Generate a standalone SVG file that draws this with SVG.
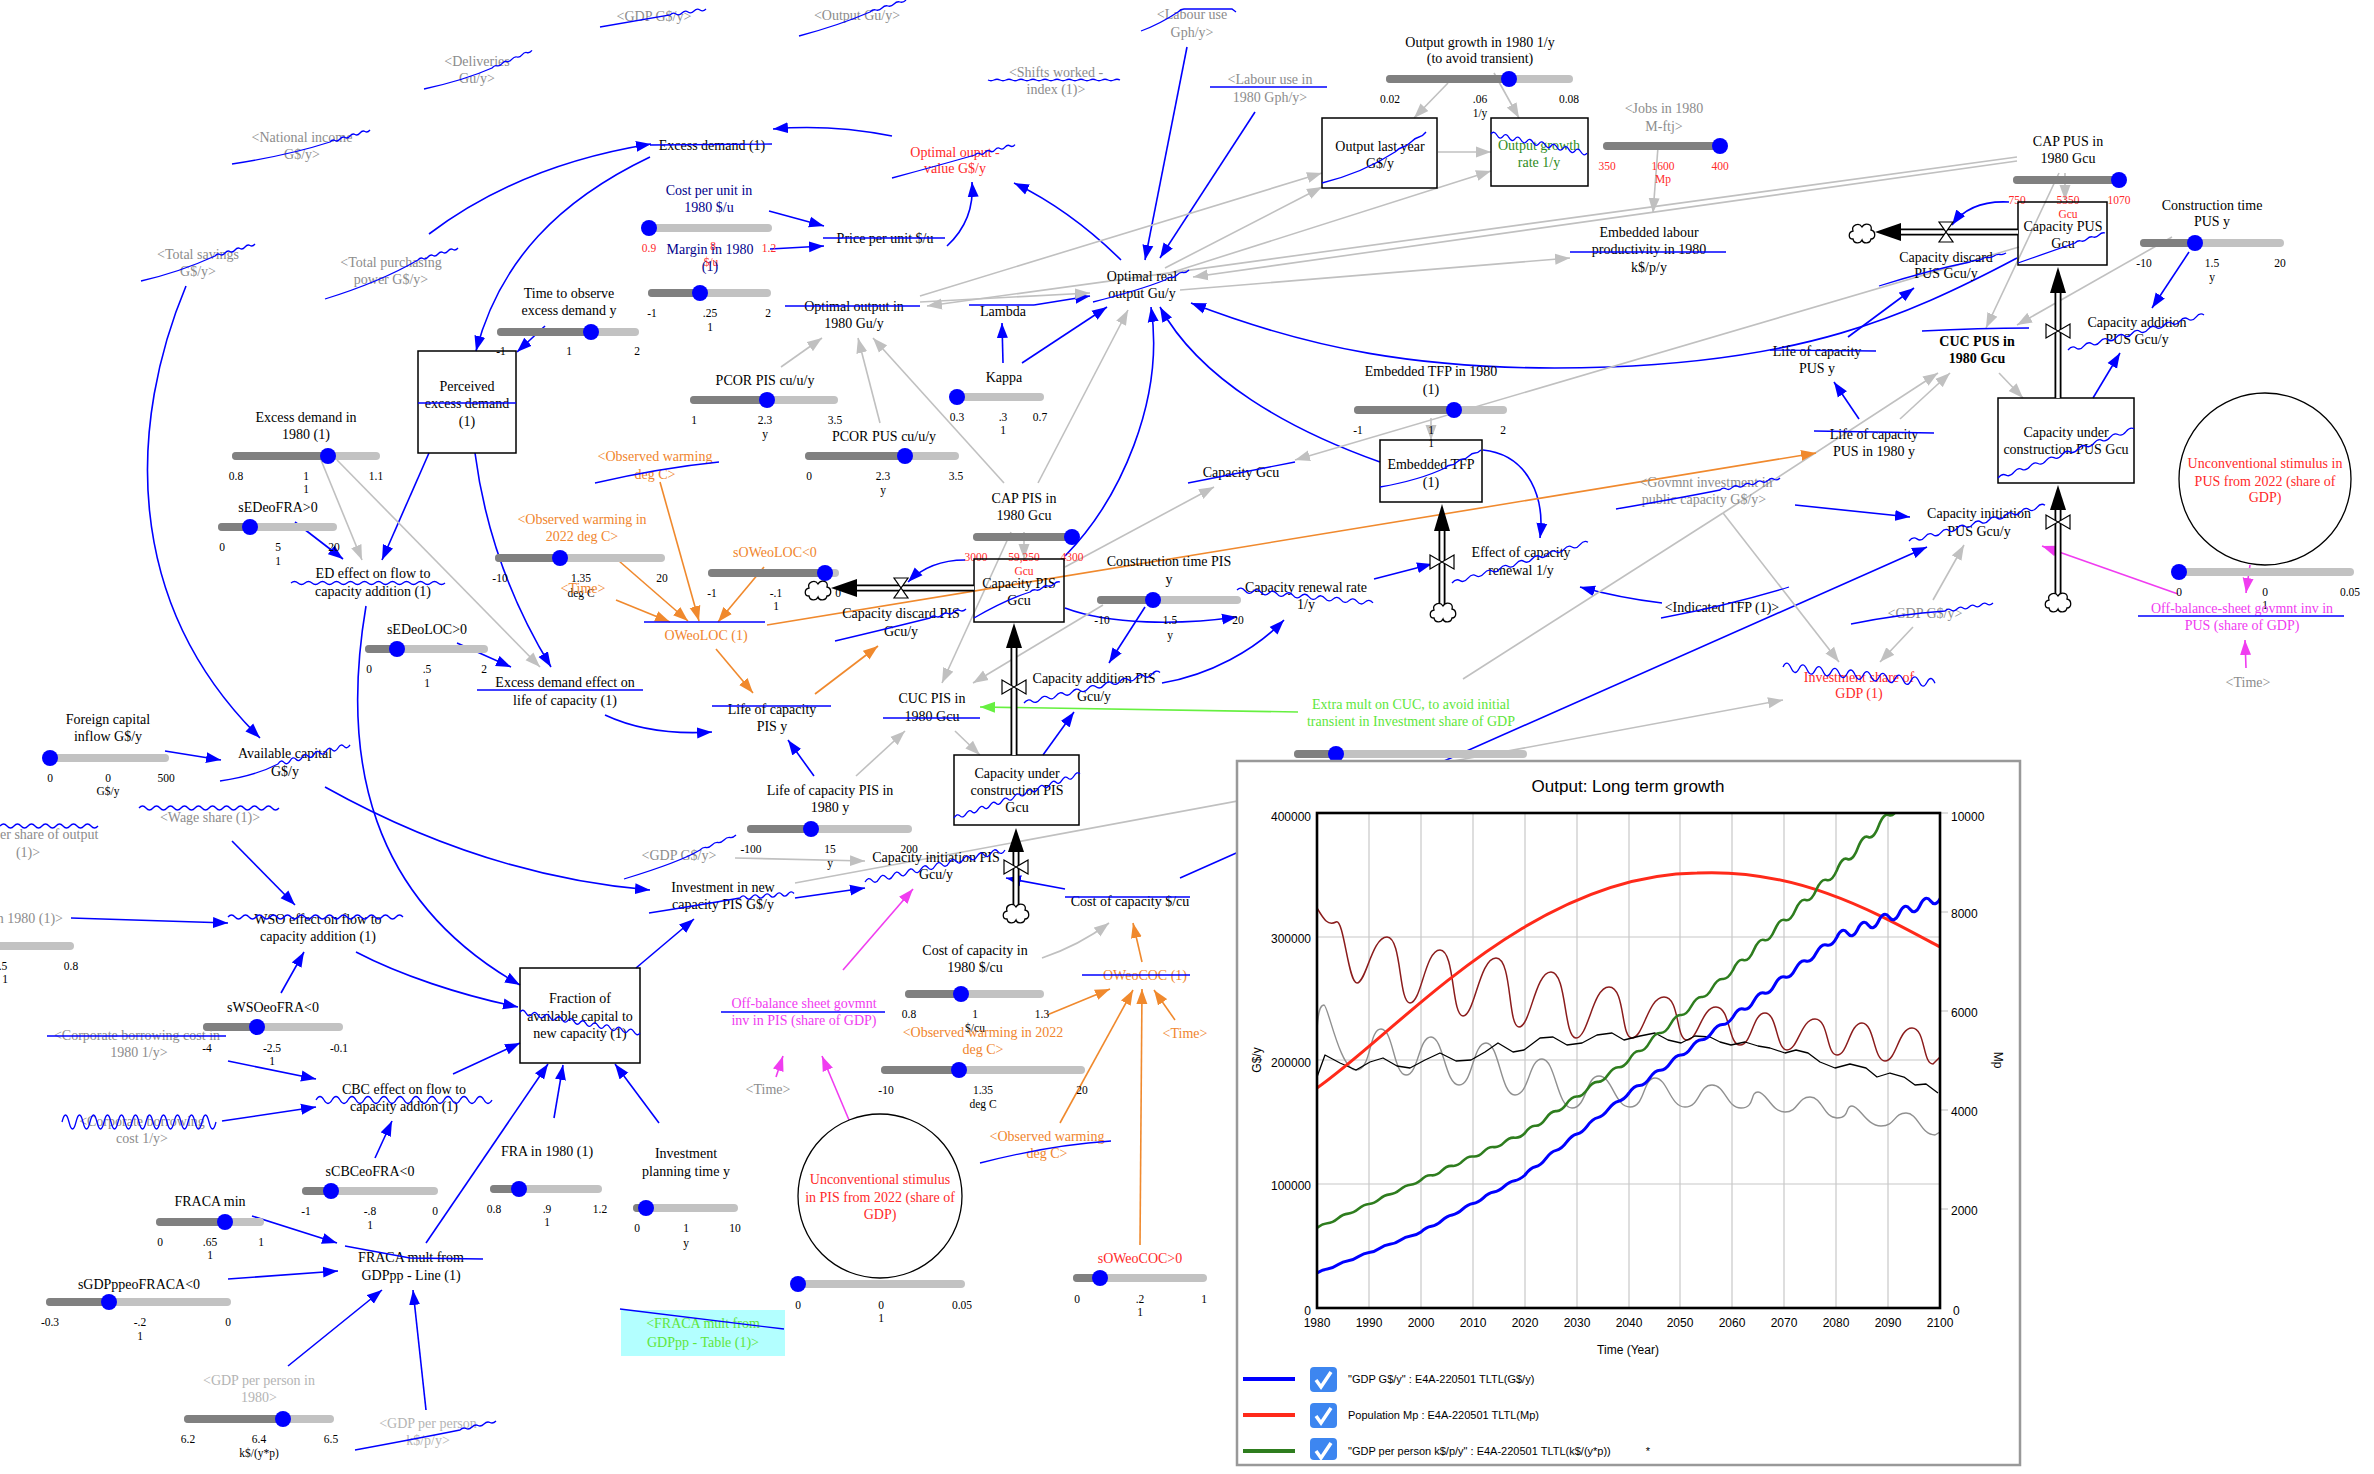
<svg xmlns="http://www.w3.org/2000/svg" width="2374" height="1474" viewBox="0 0 2374 1474">
<style>
text{font-family:"Liberation Serif","Times New Roman",serif;font-size:14px;text-anchor:middle;fill:#000}
text.n{font-size:11.5px}
.gy{fill:#8c8c8c}
.lg{fill:#b4b4b4}
.rd{fill:#ff2a2a}
.or{fill:#f0852d}
.mg{fill:#f03cf0}
.gn{fill:#5ee63c}
.nv{fill:#00008b}
.dg{fill:#2e8b22}
.b{font-weight:bold}
.sp{fill:none;stroke:#0000ff;stroke-width:1.3}
.bx{fill:none;stroke:#000;stroke-width:1.5}
.sl line{stroke:#c2c2c2;stroke-width:8;stroke-linecap:round}
.sl line.dk{stroke:#808080}
.sl circle{fill:#0000ff}
.cb{fill:none;stroke:#0000ff;stroke-width:1.6;marker-end:url(#ab)}
.cg{fill:none;stroke:#c0c0c0;stroke-width:1.6;marker-end:url(#ag)}
.cgn{fill:none;stroke:#c0c0c0;stroke-width:1.6}
.co{fill:none;stroke:#f0892d;stroke-width:1.6;marker-end:url(#ao)}
.cm{fill:none;stroke:#f03cf0;stroke-width:1.6;marker-end:url(#am)}
.cn{fill:none;stroke:#66f040;stroke-width:1.6;marker-end:url(#an)}
.pipe{stroke:#000;stroke-width:7;fill:none}
.pipe2{stroke:#fff;stroke-width:3.4;fill:none}
.valve{fill:#fff;stroke:#000;stroke-width:1.2}
.cloud{fill:#fff;stroke:#000;stroke-width:1.3}
.ch text{font-family:"Liberation Sans",Arial,sans-serif;font-size:12px}
.grid{stroke:#c8c8c8;stroke-width:1.2}
</style>
<defs>
<marker id="ab" markerUnits="userSpaceOnUse" markerWidth="16" markerHeight="12" refX="15" refY="6" orient="auto"><path d="M0,0.5L15,6L0,11.5z" fill="#0000ff"/></marker>
<marker id="ag" markerUnits="userSpaceOnUse" markerWidth="16" markerHeight="12" refX="15" refY="6" orient="auto"><path d="M0,0.5L15,6L0,11.5z" fill="#c0c0c0"/></marker>
<marker id="ao" markerUnits="userSpaceOnUse" markerWidth="16" markerHeight="12" refX="15" refY="6" orient="auto"><path d="M0,0.5L15,6L0,11.5z" fill="#f0892d"/></marker>
<marker id="am" markerUnits="userSpaceOnUse" markerWidth="16" markerHeight="12" refX="15" refY="6" orient="auto"><path d="M0,0.5L15,6L0,11.5z" fill="#f03cf0"/></marker>
<marker id="an" markerUnits="userSpaceOnUse" markerWidth="16" markerHeight="12" refX="15" refY="6" orient="auto"><path d="M0,0.5L15,6L0,11.5z" fill="#66f040"/></marker>
<clipPath id="pc"><rect x="1317" y="813" width="623" height="495"/></clipPath>
<g id="cloud"><path class="cloud" d="M-9,6 C-14,6 -14,-1 -9,-2 C-11,-8 -3,-11 0,-6 C3,-11 11,-9 9,-3 C14,-2 14,6 9,6 C8,11 1,11 0,7 C-2,11 -8,11 -9,6 Z"/></g>
</defs>
<rect width="2374" height="1474" fill="#fff"/>

<g id="connectors">
<!-- blue -->
<path class="cb" d="M429,234 Q520,165 651,144"/>
<path class="cb" d="M650,157 C560,200 500,260 476,351"/>
<path class="cb" d="M545,326 L517,352"/>
<path class="cb" d="M892,136 Q830,124 773,129"/>
<path class="cb" d="M769,211 L824,226"/>
<path class="cb" d="M770,249 L824,246"/>
<path class="cb" d="M947,246 Q975,220 972,182"/>
<path class="cb" d="M1121,260 Q1070,210 1014,183"/>
<path class="cb" d="M1187,47 L1145,260"/>
<path class="cb" d="M1255,112 L1160,258"/>
<path class="cb" d="M1022,363 L1107,307"/>
<path class="cb" d="M1003,363 L1002,323"/>
<path class="cb" d="M1034,305 L1090,296"/>
<path class="cb" d="M1065,556 C1120,500 1165,400 1151,307"/>
<path class="cb" d="M1380,462 C1290,430 1200,380 1160,307"/>
<path class="cb" d="M2017,258 C1900,320 1800,360 1609,367 S1300,345 1191,303"/>
<path class="cb" d="M429,453 L382,560"/>
<path class="cb" d="M295,522 L343,559"/>
<path class="cb" d="M475,453 C485,530 510,600 551,667"/>
<path class="cb" d="M457,643 L511,667"/>
<path class="cb" d="M605,715 Q650,736 712,732"/>
<path class="cb" d="M186,286 C130,420 120,600 260,738"/>
<path class="cb" d="M165,751 L221,760"/>
<path class="cb" d="M325,787 C420,840 530,880 650,890"/>
<path class="cb" d="M366,606 C340,760 370,900 520,985"/>
<path class="cb" d="M232,841 L295,905"/>
<path class="cb" d="M71,918 L228,923"/>
<path class="cb" d="M281,993 L304,952"/>
<path class="cb" d="M356,952 C400,975 460,995 518,1007"/>
<path class="cb" d="M228,1061 L316,1079"/>
<path class="cb" d="M222,1121 L316,1107"/>
<path class="cb" d="M375,1158 L392,1121"/>
<path class="cb" d="M453,1074 L520,1043"/>
<path class="cb" d="M252,1216 L337,1243"/>
<path class="cb" d="M228,1279 L338,1271"/>
<path class="cb" d="M288,1366 L382,1290"/>
<path class="cb" d="M426,1410 L413,1290"/>
<path class="cb" d="M426,1243 L548,1064"/>
<path class="cb" d="M554,1118 L563,1065"/>
<path class="cb" d="M659,1123 L615,1064"/>
<path class="cb" d="M636,968 L694,919"/>
<path class="cb" d="M795,898 Q830,893 865,888"/>
<path class="cb" d="M1065,889 L1006,878"/>
<path class="cb" d="M1180,878 L1927,547"/>
<path class="cb" d="M965,560 Q930,560 908,582"/>
<path class="cb" d="M1043,755 L1074,712"/>
<path class="cb" d="M1145,607 L1109,663"/>
<path class="cb" d="M1065,608 C1110,625 1180,625 1237,617"/>
<path class="cb" d="M1162,683 C1210,675 1255,650 1284,620"/>
<path class="cb" d="M1374,579 L1432,564"/>
<path class="cb" d="M1483,450 C1530,455 1545,500 1540,538"/>
<path class="cb" d="M1662,603 Q1620,598 1580,587"/>
<path class="cb" d="M814,776 L788,740"/>
<path class="cb" d="M1859,419 L1834,382"/>
<path class="cb" d="M1848,337 L1914,288"/>
<path class="cb" d="M2009,202 Q1970,200 1952,225"/>
<path class="cb" d="M2093,398 L2120,353"/>
<path class="cb" d="M2189,252 L2152,308"/>
<path class="cb" d="M1795,505 L1910,517"/>
<!-- grey -->
<path class="cg" d="M321,460 L362,560"/>
<path class="cg" d="M337,460 L540,667"/>
<path class="cg" d="M920,296 L1322,173"/>
<path class="cg" d="M1165,268 L1322,187"/>
<path class="cg" d="M1170,273 L1491,171"/>
<path class="cg" d="M1448,83 L1414,118"/>
<path class="cg" d="M1494,73 L1519,118"/>
<path class="cg" d="M1438,152 L1491,152"/>
<path class="cg" d="M1658,147 L1653,213"/>
<path class="cg" d="M1180,290 L1570,258"/>
<path class="cg" d="M920,302 L1090,293"/>
<path class="cg" d="M2017,157 L927,306"/>
<path class="cg" d="M2017,161 L1193,277"/>
<path class="cg" d="M781,367 L822,338"/>
<path class="cg" d="M880,423 L858,338"/>
<path class="cg" d="M1004,483 L873,338"/>
<path class="cg" d="M1038,483 L1128,310"/>
<path class="cg" d="M1024,532 L1024,559"/>
<path class="cg" d="M1011,532 L942,683"/>
<path class="cg" d="M1103,605 L973,683"/>
<path class="cg" d="M856,776 L905,731"/>
<path class="cg" d="M955,731 L980,755"/>
<path class="cg" d="M1065,567 L1214,487"/>
<path class="cg" d="M2019,247 L1295,460"/>
<path class="cg" d="M1431,418 L1431,440"/>
<path class="cgn" d="M1723,513 L1463,679"/>
<path class="cg" d="M1723,513 L1839,662"/>
<path class="cg" d="M1723,513 L1938,373"/>
<path class="cg" d="M1900,419 L1950,373"/>
<path class="cg" d="M2059,173 L1986,328"/>
<path class="cg" d="M2065,173 L2065,200"/>
<path class="cg" d="M2172,237 L2017,325"/>
<path class="cg" d="M1999,373 L2023,398"/>
<path class="cg" d="M1933,600 L1964,545"/>
<path class="cg" d="M1913,627 L1880,662"/>
<path class="cg" d="M795,883 L1783,700"/>
<path class="cg" d="M735,858 L865,861"/>
<path class="cg" d="M1042,958 Q1080,945 1109,923"/>
<!-- orange -->
<path class="co" d="M660,482 L699,621"/>
<path class="co" d="M619,561 L688,621"/>
<path class="co" d="M616,600 L670,622"/>
<path class="co" d="M764,567 L718,622"/>
<path class="co" d="M716,649 L753,693"/>
<path class="co" d="M815,694 L878,646"/>
<path class="co" d="M767,625 L1816,453"/>
<path class="co" d="M1142,962 L1133,923"/>
<path class="co" d="M1047,1015 L1110,989"/>
<path class="co" d="M1060,1123 L1133,990"/>
<path class="co" d="M1140,1245 L1142,989"/>
<path class="co" d="M1175,1020 L1154,990"/>
<!-- magenta -->
<path class="cm" d="M849,1120 L822,1056"/>
<path class="cm" d="M776,1077 L783,1056"/>
<path class="cm" d="M843,970 L913,889"/>
<path class="cm" d="M2178,594 L2042,546"/>
<path class="cm" d="M2250,565 L2246,593"/>
<path class="cm" d="M2246,668 L2245,640"/>
<!-- green -->
<path class="cn" d="M1298,712 L980,707"/>
</g>

<g id="gdp_top"><text class="gy" x="654" y="21">&lt;GDP G$/y&gt;</text><path class="sp" d="M600,27 Q640,20 670,15 q3,-3 6,-1 t6,-1 t6,-1 t6,-1 t6,-1 t6,-1"/></g>
<g id="output_top"><text class="gy" x="857" y="20">&lt;Output Gu/y&gt;</text><path class="sp" d="M799,36 Q840,25 870,12 q3,-3 6,-2 t6,-2 t6,-2 t6,-2 t6,-2 t6,-2"/></g>
<g id="labour_use"><text class="gy" x="1192" y="19">&lt;Labour use</text><text class="gy" x="1192" y="37">Gph/y&gt;</text><path class="sp" d="M1141,31 Q1160,24 1178,12 q3,-3 6,-3 t6,0 t6,0 t6,0 t6,0 t6,0 t6,0 t6,0 t6,0 l4,3"/></g>
<g id="deliveries"><text class="gy" x="477" y="66">&lt;Deliveries</text><text class="gy" x="477" y="83">Gu/y&gt;</text><path class="sp" d="M424,89 Q465,80 492,68 q2.5,-3 5,-2.2 t5,-2.2 t5,-2.2 t5,-2.2 t5,-2.2 t5,-2.2 t5,-2.2 t5,-2.2"/></g>
<g id="national_income"><text class="gy" x="302" y="142">&lt;National income</text><text class="gy" x="302" y="159">G$/y&gt;</text><path class="sp" d="M232,164 Q290,155 330,142 q2.5,-3 5,-1.5 t5,-1.5 t5,-1.5 t5,-1.5 t5,-1.5 t5,-1.5 t5,-1.5 t5,-1.5"/></g>
<g id="total_savings"><text class="gy" x="198" y="259">&lt;Total savings</text><text class="gy" x="198" y="276">G$/y&gt;</text><path class="sp" d="M141,281 Q180,272 215,256 q2.5,-3 5,-1.5 t5,-1.5 t5,-1.5 t5,-1.5 t5,-1.5 t5,-1.5 t5,-1.5 t5,-1.5"/></g>
<g id="total_purchasing_power"><text class="gy" x="391" y="267">&lt;Total purchasing</text><text class="gy" x="391" y="284">power G$/y&gt;</text><path class="sp" d="M325,299 Q380,282 418,260 q2.5,-3 5,-1.5 t5,-1.5 t5,-1.5 t5,-1.5 t5,-1.5 t5,-1.5 t5,-1.5 t5,-1.5"/></g>
<g id="shifts_worked"><text class="gy" x="1056" y="77">&lt;Shifts worked -</text><text class="gy" x="1056" y="94">index (1)&gt;</text><path class="sp" d="M988,80 q3,1.5 6,0 t6,0 t6,0 t6,0 t6,0 t6,0 t6,0 t6,0 t6,0 t6,0 t6,0 t6,0 t6,0 t6,0 t6,0 t6,0 t6,0 t6,0 t6,0 t6,0 t6,0 t6,0"/></g>
<g id="labour_use_1980"><text class="gy" x="1270" y="84">&lt;Labour use in</text><text class="gy" x="1270" y="102">1980 Gph/y&gt;</text><path class="sp" d="M1210,87 L1327,87"/></g>

<g id="output_growth_1980"><text x="1480" y="47">Output growth in 1980 1/y</text><text x="1480" y="63">(to avoid transient)</text>
<g class="sl"><line x1="1390" y1="79" x2="1569" y2="79"/><line class="dk" x1="1390" y1="79" x2="1509" y2="79"/><circle cx="1509" cy="79" r="8"/></g>
<text class="n" x="1390" y="103">0.02</text><text class="n" x="1480" y="103">.06</text><text class="n" x="1569" y="103">0.08</text><text class="n" x="1480" y="117">1/y</text></g>
<g id="output_last_year"><rect class="bx" x="1322" y="118" width="115" height="70"/><text x="1380" y="151">Output last year</text><text x="1380" y="168">G$/y</text><path class="sp" d="M1322,183 C1350,176 1375,165 1395,152 q4,-4 8,-5 t8,-5 t8,-5 t7,-5"/></g>
<g id="output_growth_rate"><rect class="bx" x="1491" y="118" width="97" height="68"/><text class="dg" x="1539" y="150">Output growth</text><text class="dg" x="1539" y="167">rate 1/y</text><path class="sp" d="M1491,134 q3,-4 6,1.2 t6,1.2 t6,1.2 t6,1.2 t6,1.2 t6,1.2 t6,1.2 t6,1.2 t6,1.2 t6,1.2 t6,1.2 t6,1.2 t6,1.2 t6,1.2 t6,1.2 t6,1.2"/></g>
<g id="jobs_1980"><text class="gy" x="1664" y="113">&lt;Jobs in 1980</text><text class="gy" x="1664" y="131">M-ftj&gt;</text>
<g class="sl"><line x1="1607" y1="146" x2="1720" y2="146"/><line class="dk" x1="1607" y1="146" x2="1720" y2="146"/><circle cx="1720" cy="146" r="8"/></g>
<text class="n rd" x="1607" y="170">350</text><text class="n rd" x="1663" y="170">1600</text><text class="n rd" x="1720" y="170">400</text><text class="n rd" x="1663" y="183">Mp</text></g>
<g id="embedded_labour"><text x="1649" y="237">Embedded labour</text><text x="1649" y="254">productivity in 1980</text><text x="1649" y="272">k$/p/y</text><path class="sp" d="M1570,252 L1726,252"/></g>

<g id="optimal_value"><text class="rd" x="955" y="157">Optimal ouput -</text><text class="rd" x="955" y="173">value G$/y</text><path class="sp" d="M892,178 Q940,165 975,155 q2.5,-3 5,-1.3 t5,-1.3 t5,-1.3 t5,-1.3 t5,-1.3 t5,-1.3 t5,-1.3 t5,-1.3"/></g>
<g id="excess_demand"><text x="712" y="150">Excess demand (1)</text><path class="sp" d="M650,145 L772,144"/></g>
<g id="cost_per_unit"><text class="nv" x="709" y="195">Cost per unit in</text><text class="nv" x="709" y="212">1980 $/u</text>
<g class="sl"><line x1="649" y1="228" x2="768" y2="228"/><circle cx="649" cy="228" r="8"/></g>
<text class="n rd" x="649" y="252">0.9</text><text class="n rd" x="713" y="250">8</text><text class="n rd" x="769" y="252">1.2</text><text class="n rd" x="711" y="266">$/u</text></g>
<g id="margin_1980"><text class="nv" x="710" y="254">Margin in 1980</text><text class="nv" x="710" y="271">(1)</text>
<g class="sl"><line x1="652" y1="293" x2="767" y2="293"/><line class="dk" x1="652" y1="293" x2="700" y2="293"/><circle cx="700" cy="293" r="8"/></g>
<text class="n" x="652" y="317">-1</text><text class="n" x="710" y="317">.25</text><text class="n" x="768" y="317">2</text><text class="n" x="710" y="331">1</text></g>
<g id="price_per_unit"><text x="885" y="243">Price per unit $/u</text><path class="sp" d="M823,238 L945,238"/></g>
<g id="time_to_observe"><text x="569" y="298">Time to observe</text><text x="569" y="315">excess demand y</text>
<g class="sl"><line x1="501" y1="332" x2="635" y2="332"/><line class="dk" x1="501" y1="332" x2="591" y2="332"/><circle cx="591" cy="332" r="8"/></g>
<text class="n" x="501" y="355">-1</text><text class="n" x="569" y="355">1</text><text class="n" x="637" y="355">2</text></g>
<g id="perceived_excess_demand"><rect class="bx" x="418" y="351" width="98" height="102"/><text x="467" y="391">Perceived</text><text x="467" y="408">excess demand</text><text x="467" y="426">(1)</text><path class="sp" d="M418,403 L516,403"/></g>
<g id="excess_demand_1980"><text x="306" y="422">Excess demand in</text><text x="306" y="439">1980 (1)</text>
<g class="sl"><line x1="236" y1="456" x2="376" y2="456"/><line class="dk" x1="236" y1="456" x2="328" y2="456"/><circle cx="328" cy="456" r="8"/></g>
<text class="n" x="236" y="480">0.8</text><text class="n" x="306" y="480">1</text><text class="n" x="376" y="480">1.1</text><text class="n" x="306" y="493">1</text></g>
<g id="sEDeoFRA"><text x="278" y="512">sEDeoFRA&gt;0</text>
<g class="sl"><line x1="222" y1="527" x2="333" y2="527"/><line class="dk" x1="222" y1="527" x2="250" y2="527"/><circle cx="250" cy="527" r="8"/></g>
<text class="n" x="222" y="551">0</text><text class="n" x="278" y="551">5</text><text class="n" x="334" y="551">20</text><text class="n" x="278" y="565">1</text></g>
<g id="ed_effect_flow"><text x="373" y="578">ED effect on flow to</text><text x="373" y="596">capacity addition (1)</text><path class="sp" d="M291,583 q3.5,-3 7,0 t7,0 t7,0 t7,0 t7,0 t7,0 t7,0 t7,0 t7,0 t7,0 t7,0 t7,0 t7,0 t7,0 t7,0 t7,0 t7,0 t7,0 t7,0 t7,0 t7,0 t7,0"/></g>
<g id="sEDeoLOC"><text x="427" y="634">sEDeoLOC&gt;0</text>
<g class="sl"><line x1="369" y1="649" x2="484" y2="649"/><line class="dk" x1="369" y1="649" x2="397" y2="649"/><circle cx="397" cy="649" r="8"/></g>
<text class="n" x="369" y="673">0</text><text class="n" x="427" y="673">.5</text><text class="n" x="484" y="673">2</text><text class="n" x="427" y="687">1</text></g>
<g id="ed_effect_life"><text x="565" y="687">Excess demand effect on</text><text x="565" y="705">life of capacity (1)</text><path class="sp" d="M477,690 L643,690"/></g>
<g id="foreign_capital"><text x="108" y="724">Foreign capital</text><text x="108" y="741">inflow G$/y</text>
<g class="sl"><line x1="50" y1="758" x2="165" y2="758"/><circle cx="50" cy="758" r="8"/></g>
<text class="n" x="50" y="782">0</text><text class="n" x="108" y="782">0</text><text class="n" x="166" y="782">500</text><text class="n" x="108" y="795">G$/y</text></g>
<g id="available_capital"><text x="285" y="758">Available capital</text><text x="285" y="776">G$/y</text><path class="sp" d="M220,781 Q255,776 278,764 q3,-5 6,-1.6 t6,-1.6 t6,-1.6 t6,-1.6 t6,-1.6 t6,-1.6 t6,-1.6 t6,-1.6 t6,-1.6 t6,-1.6 t6,-1.6 t6,-1.6"/></g>
<g id="wage_share"><text class="gy" x="210" y="822">&lt;Wage share (1)&gt;</text><path class="sp" d="M139,808 q3.5,-4 7,0 t7,0 t7,0 t7,0 t7,0 t7,0 t7,0 t7,0 t7,0 t7,0 t7,0 t7,0 t7,0 t7,0 t7,0 t7,0 t7,0 t7,0 t7,0 t7,0"/></g>
<g id="share_of_output"><text class="gy" x="0" y="839" style="text-anchor:start">er share of output</text><text class="gy" x="28" y="857">(1)&gt;</text><path class="sp" d="M0,826 q3.5,-4 7,0 t7,0 t7,0 t7,0 t7,0 t7,0 t7,0 t7,0 t7,0 t7,0 t7,0 t7,0 t7,0 t7,0"/></g>
<g id="in_1980_left"><text class="gy" x="63" y="923" style="text-anchor:end">n 1980 (1)&gt;</text>
<g class="sl"><line x1="-10" y1="946" x2="70" y2="946"/></g>
<text class="n" x="3" y="970">.5</text><text class="n" x="71" y="970">0.8</text><text class="n" x="5" y="983">1</text></g>
<g id="wso_effect"><text x="318" y="924">WSO effect on flow to</text><text x="318" y="941">capacity addition (1)</text><path class="sp" d="M228,917 q3.5,-4 7,0 t7,0 t7,0 t7,0 t7,0 t7,0 t7,0 t7,0 t7,0 t7,0 t7,0 t7,0 t7,0 t7,0 t7,0 t7,0 t7,0 t7,0 t7,0 t7,0 t7,0 t7,0 t7,0 t7,0 t7,0"/></g>
<g id="sWSOeoFRA"><text x="273" y="1012">sWSOeoFRA&lt;0</text>
<g class="sl"><line x1="207" y1="1027" x2="339" y2="1027"/><line class="dk" x1="207" y1="1027" x2="257" y2="1027"/><circle cx="257" cy="1027" r="8"/></g>
<text class="n" x="207" y="1052">-4</text><text class="n" x="272" y="1052">-2.5</text><text class="n" x="339" y="1052">-0.1</text><text class="n" x="272" y="1065">1</text></g>
<g id="corp_cost_1980"><text class="gy" x="137" y="1040">&lt;Corporate borrowing cost in</text><text class="gy" x="139" y="1057">1980 1/y&gt;</text><path class="sp" d="M47,1036 L226,1036"/></g>
<g id="cbc_effect"><text x="404" y="1094">CBC effect on flow to</text><text x="404" y="1111">capacity addion (1)</text><path class="sp" d="M316,1100 q4,-7 8,0 t8,0 t8,0 t8,0 t8,0 t8,0 t8,0 t8,0 t8,0 t8,0 t8,0 t8,0 t8,0 t8,0 t8,0 t8,0 t8,0 t8,0 t8,0 t8,0 t8,0 t8,0"/></g>
<g id="corp_cost"><text class="gy" x="142" y="1126">&lt;Corporate borrowing</text><text class="gy" x="142" y="1143">cost 1/y&gt;</text><path class="sp" d="M62,1122 q3.5,-14 7,0 t7,0 t7,0 t7,0 t7,0 t7,0 t7,0 t7,0 t7,0 t7,0 t7,0 t7,0 t7,0 t7,0 t7,0 t7,0 t7,0 t7,0 t7,0 t7,0 t7,0 t7,0"/></g>
<g id="sCBCeoFRA"><text x="370" y="1176">sCBCeoFRA&lt;0</text>
<g class="sl"><line x1="306" y1="1191" x2="434" y2="1191"/><line class="dk" x1="306" y1="1191" x2="331" y2="1191"/><circle cx="331" cy="1191" r="8"/></g>
<text class="n" x="306" y="1215">-1</text><text class="n" x="370" y="1215">-.8</text><text class="n" x="435" y="1215">0</text><text class="n" x="370" y="1229">1</text></g>
<g id="fraca_min"><text x="210" y="1206">FRACA min</text>
<g class="sl"><line x1="160" y1="1222" x2="260" y2="1222"/><line class="dk" x1="160" y1="1222" x2="225" y2="1222"/><circle cx="225" cy="1222" r="8"/></g>
<text class="n" x="160" y="1246">0</text><text class="n" x="210" y="1246">.65</text><text class="n" x="261" y="1246">1</text><text class="n" x="210" y="1259">1</text></g>
<g id="fraca_mult_line"><text x="411" y="1262">FRACA mult from</text><text x="411" y="1280">GDPpp - Line (1)</text><path class="sp" d="M345,1246 L410,1258 L483,1259"/></g>
<g id="sGDPppeoFRACA"><text x="139" y="1289">sGDPppeoFRACA&lt;0</text>
<g class="sl"><line x1="50" y1="1302" x2="227" y2="1302"/><line class="dk" x1="50" y1="1302" x2="109" y2="1302"/><circle cx="109" cy="1302" r="8"/></g>
<text class="n" x="50" y="1326">-0.3</text><text class="n" x="140" y="1326">-.2</text><text class="n" x="228" y="1326">0</text><text class="n" x="140" y="1340">1</text></g>
<g id="gdppp_1980"><text class="lg" x="259" y="1385">&lt;GDP per person in</text><text class="lg" x="259" y="1402">1980&gt;</text>
<g class="sl"><line x1="188" y1="1419" x2="330" y2="1419"/><line class="dk" x1="188" y1="1419" x2="283" y2="1419"/><circle cx="283" cy="1419" r="8"/></g>
<text class="n" x="188" y="1443">6.2</text><text class="n" x="259" y="1443">6.4</text><text class="n" x="331" y="1443">6.5</text><text class="n" x="259" y="1457">k$/(y*p)</text></g>
<g id="gdppp"><text class="lg" x="428" y="1428">&lt;GDP per person</text><text class="lg" x="428" y="1445">k$/p/y&gt;</text><path class="sp" d="M355,1450 Q420,1438 460,1430 q3,-3 6,-1.5 t6,-1.5 t6,-1.5 t6,-1.5 t6,-1.5 t6,-1.5"/></g>
<g id="fra_1980"><text x="547" y="1156">FRA in 1980 (1)</text>
<g class="sl"><line x1="494" y1="1189" x2="598" y2="1189"/><line class="dk" x1="494" y1="1189" x2="519" y2="1189"/><circle cx="519" cy="1189" r="8"/></g>
<text class="n" x="494" y="1213">0.8</text><text class="n" x="547" y="1213">.9</text><text class="n" x="600" y="1213">1.2</text><text class="n" x="547" y="1226">1</text></g>
<g id="fraction_available"><rect class="bx" x="520" y="968" width="120" height="95"/><text x="580" y="1003">Fraction of</text><text x="580" y="1021">available capital to</text><text x="580" y="1038">new capacity (1)</text><path class="sp" d="M520,1012 q3,-4 6,1.05 t6,1.05 t6,1.05 t6,1.05 t6,1.05 t6,1.05 t6,1.05 t6,1.05 t6,1.05 t6,1.05 t6,1.05 t6,1.05 t6,1.05 t6,1.05 t6,1.05 t6,1.05 t6,1.05 t6,1.05 t6,1.05 t6,1.05"/></g>
<g id="investment_planning"><text x="686" y="1158">Investment</text><text x="686" y="1176">planning time y</text>
<g class="sl"><line x1="637" y1="1208" x2="734" y2="1208"/><line class="dk" x1="637" y1="1208" x2="646" y2="1208"/><circle cx="646" cy="1208" r="8"/></g>
<text class="n" x="637" y="1232">0</text><text class="n" x="686" y="1232">1</text><text class="n" x="735" y="1232">10</text><text class="n" x="686" y="1247">y</text></g>
<g id="fraca_table"><rect x="621" y="1310" width="164" height="46" fill="#b3ffff"/><text class="gn" x="703" y="1328">&lt;FRACA mult from</text><text class="gn" x="703" y="1347">GDPpp - Table (1)&gt;</text><path class="sp" d="M620,1309 L784,1329"/></g>
<g id="off_balance_pis"><text class="mg" x="804" y="1008">Off-balance sheet govmnt</text><text class="mg" x="804" y="1025">inv in PIS (share of GDP)</text><path class="sp" d="M721,1012 L885,1012"/></g>
<g id="time_pis"><text class="gy" x="768" y="1094">&lt;Time&gt;</text></g>
<g id="unconventional_pis"><circle cx="880" cy="1196" r="82" fill="none" stroke="#000" stroke-width="1.3"/><text class="rd" x="880" y="1184">Unconventional stimulus</text><text class="rd" x="880" y="1202">in PIS from 2022 (share of</text><text class="rd" x="880" y="1219">GDP)</text>
<g class="sl"><line x1="798" y1="1284" x2="961" y2="1284"/><circle cx="798" cy="1284" r="8"/></g>
<text class="n" x="798" y="1309">0</text><text class="n" x="881" y="1309">0</text><text class="n" x="962" y="1309">0.05</text><text class="n" x="881" y="1322">1</text></g>
<g id="cost_capacity_1980"><text x="975" y="955">Cost of capacity in</text><text x="975" y="972">1980 $/cu</text>
<g class="sl"><line x1="909" y1="994" x2="1040" y2="994"/><line class="dk" x1="909" y1="994" x2="961" y2="994"/><circle cx="961" cy="994" r="8"/></g>
<text class="n" x="909" y="1018">0.8</text><text class="n" x="975" y="1018">1</text><text class="n" x="1042" y="1018">1.3</text><text class="n" x="975" y="1032">$/cu</text></g>
<g id="obs_warming_2022_b"><text class="or" x="983" y="1037">&lt;Observed warming in 2022</text><text class="or" x="983" y="1054">deg C&gt;</text>
<g class="sl"><line x1="885" y1="1070" x2="1081" y2="1070"/><line class="dk" x1="885" y1="1070" x2="959" y2="1070"/><circle cx="959" cy="1070" r="8"/></g>
<text class="n" x="886" y="1094">-10</text><text class="n" x="983" y="1094">1.35</text><text class="n" x="1082" y="1094">20</text><text class="n" x="983" y="1108">deg C</text></g>
<g id="obs_warming_b"><text class="or" x="1047" y="1141">&lt;Observed warming</text><text class="or" x="1047" y="1158">deg C&gt;</text><path class="sp" d="M980,1163 Q1050,1145 1111,1141"/></g>
<g id="time_coc"><text class="or" x="1185" y="1038">&lt;Time&gt;</text></g>
<g id="sOWeoCOC"><text class="rd" x="1140" y="1263">sOWeoCOC&gt;0</text>
<g class="sl"><line x1="1077" y1="1278" x2="1203" y2="1278"/><line class="dk" x1="1077" y1="1278" x2="1100" y2="1278"/><circle cx="1100" cy="1278" r="8"/></g>
<text class="n" x="1077" y="1303">0</text><text class="n" x="1140" y="1303">.2</text><text class="n" x="1204" y="1303">1</text><text class="n" x="1140" y="1316">1</text></g>
<g id="OWeoCOC"><text class="or" x="1145" y="980">OWeoCOC (1)</text><path class="sp" d="M1082,975 L1190,975"/></g>
<g id="cost_of_capacity"><text x="1130" y="906">Cost of capacity $/cu</text><path class="sp" d="M1065,897 L1190,897"/></g>
<g id="capacity_initiation_pis"><text x="936" y="862">Capacity initiation PIS</text><text x="936" y="879">Gcu/y</text><path class="sp" d="M865,882 q3.5,-6 7,-1.6 t7,-1.6 t7,-1.6 t7,-1.6 t7,-1.6 t7,-1.6 t7,-1.6 t7,-1.6 t7,-1.6 t7,-1.6 t7,-1.6 t7,-1.6 t7,-1.6 t7,-1.6 t7,-1.6 t7,-1.6 t7,-1.6 t7,-1.6 t7,-1.6 t7,-1.6"/></g>
<g id="gdp_mid"><text class="gy" x="679" y="860">&lt;GDP G$/y&gt;</text><path class="sp" d="M624,879 Q680,862 700,850 q3,-3 6,-2.5 t6,-2.5 t6,-2.5 t6,-2.5 t6,-2.5 t6,-2.5"/></g>
<g id="investment_new_pis"><text x="723" y="892">Investment in new</text><text x="723" y="909">capacity PIS G$/y</text><path class="sp" d="M649,913 Q700,905 740,898 q3,-4 6,-0.5 t6,-0.5 t6,-0.5 t6,-0.5 t6,-0.5 t6,-0.5 t6,-0.5 t6,-0.5 t6,-0.5"/></g>
<g id="life_pis_1980"><text x="830" y="795">Life of capacity PIS in</text><text x="830" y="812">1980 y</text>
<g class="sl"><line x1="751" y1="829" x2="908" y2="829"/><line class="dk" x1="751" y1="829" x2="811" y2="829"/><circle cx="811" cy="829" r="8"/></g>
<text class="n" x="751" y="853">-100</text><text class="n" x="830" y="853">15</text><text class="n" x="909" y="853">200</text><text class="n" x="830" y="867">y</text></g>
<g id="life_pis"><text x="772" y="714">Life of capacity</text><text x="772" y="731">PIS y</text><path class="sp" d="M712,706 L831,706"/></g>
<g id="OWeoLOC"><text class="or" x="706" y="640">OWeoLOC (1)</text><path class="sp" d="M644,622 L765,622"/></g>
<g id="sOWeoLOC"><text class="or" x="775" y="557">sOWeoLOC&lt;0</text>
<g class="sl"><line x1="712" y1="573" x2="835" y2="573"/><line class="dk" x1="712" y1="573" x2="825" y2="573"/><circle cx="825" cy="573" r="8"/></g>
<text class="n" x="712" y="597">-1</text><text class="n" x="776" y="597">-.1</text><text class="n" x="838" y="597">0</text><text class="n" x="776" y="610">1</text></g>
<g id="obs_warming_2022_a"><text class="or" x="582" y="524">&lt;Observed warming in</text><text class="or" x="582" y="541">2022 deg C&gt;</text>
<g class="sl"><line x1="499" y1="558" x2="661" y2="558"/><line class="dk" x1="499" y1="558" x2="560" y2="558"/><circle cx="560" cy="558" r="8"/></g>
<text class="n" x="500" y="582">-10</text><text class="n" x="581" y="582">1.35</text><text class="n" x="662" y="582">20</text><text class="n" x="581" y="597">deg C</text></g>
<g id="time_loc"><text class="or" x="583" y="593">&lt;Time&gt;</text></g>
<g id="obs_warming_a"><text class="or" x="655" y="461">&lt;Observed warming</text><text class="or" x="655" y="479">deg C&gt;</text><path class="sp" d="M595,483 Q660,468 719,462"/></g>
<g id="pcor_pis"><text x="765" y="385">PCOR PIS cu/u/y</text>
<g class="sl"><line x1="694" y1="400" x2="834" y2="400"/><line class="dk" x1="694" y1="400" x2="767" y2="400"/><circle cx="767" cy="400" r="8"/></g>
<text class="n" x="694" y="424">1</text><text class="n" x="765" y="424">2.3</text><text class="n" x="835" y="424">3.5</text><text class="n" x="765" y="438">y</text></g>
<g id="pcor_pus"><text x="884" y="441">PCOR PUS cu/u/y</text>
<g class="sl"><line x1="809" y1="456" x2="955" y2="456"/><line class="dk" x1="809" y1="456" x2="905" y2="456"/><circle cx="905" cy="456" r="8"/></g>
<text class="n" x="809" y="480">0</text><text class="n" x="883" y="480">2.3</text><text class="n" x="956" y="480">3.5</text><text class="n" x="883" y="494">y</text></g>
<g id="optimal_output_1980"><text x="854" y="311">Optimal output in</text><text x="854" y="328">1980 Gu/y</text><path class="sp" d="M785,306 L920,306"/></g>
<g id="lambda"><text x="1003" y="316">Lambda</text><path class="sp" d="M969,305 L1034,305"/></g>
<g id="kappa"><text x="1004" y="382">Kappa</text>
<g class="sl"><line x1="957" y1="397" x2="1040" y2="397"/><circle cx="957" cy="397" r="8"/></g>
<text class="n" x="957" y="421">0.3</text><text class="n" x="1003" y="421">.3</text><text class="n" x="1040" y="421">0.7</text><text class="n" x="1003" y="434">1</text></g>
<g id="optimal_real_output"><text x="1142" y="281">Optimal real</text><text x="1142" y="298">output Gu/y</text><path class="sp" d="M1093,302 Q1140,290 1165,280 q3,-3 6,-2.5 t6,-2.5 t6,-2.5 t6,-2.5"/></g>
<g id="cap_pis_1980"><text x="1024" y="503">CAP PIS in</text><text x="1024" y="520">1980 Gcu</text>
<g class="sl"><line x1="977" y1="537" x2="1071" y2="537"/><line class="dk" x1="977" y1="537" x2="1072" y2="537"/><circle cx="1072" cy="537" r="8"/></g>
<text class="n rd" x="976" y="561">3000</text><text class="n rd" x="1024" y="561">59,250</text><text class="n rd" x="1072" y="561">4300</text><text class="n rd" x="1024" y="575">Gcu</text></g>
<g id="capacity_pis"><rect class="bx" x="974" y="559" width="90" height="63"/><text x="1019" y="588">Capacity PIS</text><text x="1019" y="605">Gcu</text><path class="sp" d="M974,618 Q1005,600 1030,592 q3,-3 6,-2 t6,-2 t6,-2 t6,-2 t6,-2"/></g>
<g id="capacity_discard_pis"><text x="901" y="618">Capacity discard PIS</text><text x="901" y="636">Gcu/y</text><path class="sp" d="M835,641 Q890,628 930,618 q3,-3 6,-1.5 t6,-1.5 t6,-1.5 t6,-1.5 t6,-1.5 t6,-1.5"/>
<path class="pipe" d="M974,588 H852"/><path class="pipe2" d="M974,588 H852"/><polygon points="857,579 857,597 831,588" fill="#000"/>
<polygon class="valve" points="894,578 908,578 894,598 908,598"/><use href="#cloud" x="818" y="590"/></g>
<g id="cuc_pis"><text x="932" y="703">CUC PIS in</text><text x="932" y="721">1980 Gcu</text><path class="sp" d="M883,718 L980,718"/></g>
<g id="capacity_uc_pis"><rect class="bx" x="954" y="755" width="125" height="70"/><text x="1017" y="778">Capacity under</text><text x="1017" y="795">construction PIS</text><text x="1017" y="812">Gcu</text><path class="sp" d="M954,818 q3,-5 6,-2.1 t6,-2.1 t6,-2.1 t6,-2.1 t6,-2.1 t6,-2.1 t6,-2.1 t6,-2.1 t6,-2.1 t6,-2.1 t6,-2.1 t6,-2.1 t6,-2.1 t6,-2.1 t6,-2.1 t6,-2.1 t6,-2.1 t6,-2.1 t6,-2.1 t6,-2.1 t6,-2.1"/></g>
<g id="capacity_addition_pis"><text x="1094" y="683">Capacity addition PIS</text><text x="1094" y="701">Gcu/y</text><path class="sp" d="M1024,703 q4,-5 8,-1.8 t8,-1.8 t8,-1.8 t8,-1.8 t8,-1.8 t8,-1.8 t8,-1.8 t8,-1.8 t8,-1.8 t8,-1.8 t8,-1.8 t8,-1.8 t8,-1.8 t8,-1.8 t8,-1.8 t8,-1.8 t8,-1.8"/>
<path class="pipe" d="M1014,755 V645"/><path class="pipe2" d="M1014,755 V645"/><polygon points="1006,648 1022,648 1014,623" fill="#000"/>
<polygon class="valve" points="1002,680 1002,694 1026,680 1026,694"/></g>
<g id="capacity_initiation_pis_flow"><path class="pipe" d="M1016,905 V848"/><path class="pipe2" d="M1016,905 V848"/><polygon points="1008,852 1024,852 1016,828" fill="#000"/>
<polygon class="valve" points="1004,860 1004,874 1028,860 1028,874"/><use href="#cloud" x="1016" y="913"/></g>
<g id="construction_time_pis"><text x="1169" y="566">Construction time PIS</text><text x="1169" y="584">y</text>
<g class="sl"><line x1="1101" y1="600" x2="1237" y2="600"/><line class="dk" x1="1101" y1="600" x2="1153" y2="600"/><circle cx="1153" cy="600" r="8"/></g>
<text class="n" x="1102" y="624">-10</text><text class="n" x="1170" y="624">1.5</text><text class="n" x="1238" y="624">20</text><text class="n" x="1170" y="639">y</text></g>
<g id="capacity_renewal_rate"><text x="1306" y="592">Capacity renewal rate</text><text x="1306" y="609">1/y</text><path class="sp" d="M1237,590 q4,-4 8,0.76 t8,0.76 t8,0.76 t8,0.76 t8,0.76 t8,0.76 t8,0.76 t8,0.76 t8,0.76 t8,0.76 t8,0.76 t8,0.76 t8,0.76 t8,0.76 t8,0.76 t8,0.76 t8,0.76"/></g>
<g id="embedded_tfp_1980"><text x="1431" y="376">Embedded TFP in 1980</text><text x="1431" y="394">(1)</text>
<g class="sl"><line x1="1358" y1="410" x2="1503" y2="410"/><line class="dk" x1="1358" y1="410" x2="1454" y2="410"/><circle cx="1454" cy="410" r="8"/></g>
<text class="n" x="1358" y="434">-1</text><text class="n" x="1431" y="434">1</text><text class="n" x="1503" y="434">2</text><text class="n" x="1431" y="447">1</text></g>
<g id="embedded_tfp"><rect class="bx" x="1380" y="440" width="102" height="62"/><text x="1431" y="469">Embedded TFP</text><text x="1431" y="487">(1)</text><path class="sp" d="M1380,487 Q1420,480 1445,468 q3,-3 6,-3 t6,-3 t6,-3 t6,-3 t6,-3 t6,-3"/>
<path class="pipe" d="M1442,604 V526"/><path class="pipe2" d="M1442,604 V526"/><polygon points="1434,531 1450,531 1442,504" fill="#000"/>
<polygon class="valve" points="1430,555 1430,569 1454,555 1454,569"/><use href="#cloud" x="1443" y="612"/></g>
<g id="effect_capacity_renewal"><text x="1521" y="557">Effect of capacity</text><text x="1521" y="575">renewal 1/y</text><path class="sp" d="M1452,583 q4,-5 8,-2.4 t8,-2.4 t8,-2.4 t8,-2.4 t8,-2.4 t8,-2.4 t8,-2.4 t8,-2.4 t8,-2.4 t8,-2.4 t8,-2.4 t8,-2.4 t8,-2.4 t8,-2.4 t8,-2.4 t8,-2.4 t8,-2.4"/></g>
<g id="indicated_tfp"><text x="1722" y="612">&lt;Indicated TFP (1)&gt;</text><path class="sp" d="M1661,618 Q1730,605 1789,587"/></g>
<g id="govmnt_investment"><text class="gy" x="1706" y="487">&lt;Govmnt investment in</text><text class="gy" x="1704" y="504">public capacity G$/y&gt;</text><path class="sp" d="M1616,509 Q1680,498 1720,490 q3,-3 6,-1.2 t6,-1.2 t6,-1.2 t6,-1.2 t6,-1.2 t6,-1.2 t6,-1.2 t6,-1.2 t6,-1.2 t6,-1.2"/></g>
<g id="capacity_gcu"><text x="1241" y="477">Capacity Gcu</text><path class="sp" d="M1188,483 L1295,462"/></g>
<g id="extra_mult"><text class="gn" x="1411" y="709">Extra mult on CUC, to avoid initial</text><text class="gn" x="1411" y="726">transient in Investment share of GDP</text>
<g class="sl"><line x1="1298" y1="754" x2="1523" y2="754"/><line class="dk" x1="1298" y1="754" x2="1336" y2="754"/><circle cx="1336" cy="754" r="8"/></g></g>

<g id="cap_pus_1980"><text x="2068" y="146">CAP PUS in</text><text x="2068" y="163">1980 Gcu</text>
<g class="sl"><line x1="2017" y1="180" x2="2119" y2="180"/><line class="dk" x1="2017" y1="180" x2="2119" y2="180"/><circle cx="2119" cy="180" r="8"/></g>
<text class="n rd" x="2017" y="204">750</text><text class="n rd" x="2068" y="204">5350</text><text class="n rd" x="2119" y="204">1070</text><text class="n rd" x="2068" y="218">Gcu</text></g>
<g id="capacity_pus"><rect class="bx" x="2018" y="202" width="89" height="63"/><text x="2063" y="231">Capacity PUS</text><text x="2063" y="248">Gcu</text><path class="sp" d="M2018,263 Q2055,250 2075,243 q3,-3 6,-2 t6,-2 t6,-2 t6,-2 t6,-2"/></g>
<g id="capacity_discard_pus"><text x="1946" y="262">Capacity discard</text><text x="1946" y="278">PUS Gcu/y</text><path class="sp" d="M1879,286 Q1930,270 1970,262 q3,-2 6,-1.5 t6,-1.5 t6,-1.5 t6,-1.5 t6,-1.5 t6,-1.5"/>
<path class="pipe" d="M2018,232 H1896"/><path class="pipe2" d="M2018,232 H1896"/><polygon points="1901,223 1901,241 1875,232" fill="#000"/>
<polygon class="valve" points="1939,222 1953,222 1939,242 1953,242"/><use href="#cloud" x="1862" y="233"/></g>
<g id="life_pus"><text x="1817" y="356">Life of capacity</text><text x="1817" y="373">PUS y</text><path class="sp" d="M1770,350 L1876,351"/></g>
<g id="life_pus_1980"><text x="1874" y="439">Life of capacity</text><text x="1874" y="456">PUS in 1980 y</text><path class="sp" d="M1814,431 L1934,433"/></g>
<g id="cuc_pus"><text class="b" x="1977" y="346">CUC PUS in</text><text class="b" x="1977" y="363">1980 Gcu</text><path class="sp" d="M1922,331 Q1980,328 2029,328"/></g>
<g id="capacity_uc_pus"><rect class="bx" x="1998" y="398" width="136" height="85"/><text x="2066" y="437">Capacity under</text><text x="2066" y="454">construction PUS Gcu</text><path class="sp" d="M1998,478 q4,-5 8,-2.9 t8,-2.9 t8,-2.9 t8,-2.9 t8,-2.9 t8,-2.9 t8,-2.9 t8,-2.9 t8,-2.9 t8,-2.9 t8,-2.9 t8,-2.9 t8,-2.9 t8,-2.9 t8,-2.9 t8,-2.9 t8,-2.9"/></g>
<g id="capacity_addition_pus"><text x="2137" y="327">Capacity addition</text><text x="2137" y="344">PUS Gcu/y</text><path class="sp" d="M2068,350 q4,-5 8,-2.06 t8,-2.06 t8,-2.06 t8,-2.06 t8,-2.06 t8,-2.06 t8,-2.06 t8,-2.06 t8,-2.06 t8,-2.06 t8,-2.06 t8,-2.06 t8,-2.06 t8,-2.06 t8,-2.06 t8,-2.06 t8,-2.06"/>
<path class="pipe" d="M2058,398 V288"/><path class="pipe2" d="M2058,398 V288"/><polygon points="2050,293 2066,293 2058,267" fill="#000"/>
<polygon class="valve" points="2046,324 2046,338 2070,324 2070,338"/></g>
<g id="construction_time_pus"><text x="2212" y="210">Construction time</text><text x="2212" y="226">PUS y</text>
<g class="sl"><line x1="2144" y1="243" x2="2280" y2="243"/><line class="dk" x1="2144" y1="243" x2="2195" y2="243"/><circle cx="2195" cy="243" r="8"/></g>
<text class="n" x="2144" y="267">-10</text><text class="n" x="2212" y="267">1.5</text><text class="n" x="2280" y="267">20</text><text class="n" x="2212" y="281">y</text></g>
<g id="capacity_initiation_pus"><text x="1979" y="518">Capacity initiation</text><text x="1979" y="536">PUS Gcu/y</text><path class="sp" d="M1909,541 q4,-5 8,-2.1 t8,-2.1 t8,-2.1 t8,-2.1 t8,-2.1 t8,-2.1 t8,-2.1 t8,-2.1 t8,-2.1 t8,-2.1 t8,-2.1 t8,-2.1 t8,-2.1 t8,-2.1 t8,-2.1 t8,-2.1 t8,-2.1"/>
<path class="pipe" d="M2058,594 V506"/><path class="pipe2" d="M2058,594 V506"/><polygon points="2050,510 2066,510 2058,485" fill="#000"/>
<polygon class="valve" points="2046,515 2046,529 2070,515 2070,529"/><use href="#cloud" x="2058" y="602"/></g>
<g id="gdp_right"><text class="gy" x="1925" y="618">&lt;GDP G$/y&gt;</text><path class="sp" d="M1851,624 Q1900,614 1945,611 q3,-3 6,-1 t6,-1 t6,-1 t6,-1 t6,-1 t6,-1 t6,-1 t6,-1"/></g>
<g id="investment_share"><text class="rd" x="1859" y="682">Investment share of</text><text class="rd" x="1859" y="698">GDP (1)</text><path class="sp" d="M1783,667 q4,-8 8,0.85 t8,0.85 t8,0.85 t8,0.85 t8,0.85 t8,0.85 t8,0.85 t8,0.85 t8,0.85 t8,0.85 t8,0.85 t8,0.85 t8,0.85 t8,0.85 t8,0.85 t8,0.85 t8,0.85 t8,0.85 t8,0.85"/></g>
<g id="unconventional_pus"><circle cx="2265" cy="479" r="86" fill="none" stroke="#000" stroke-width="1.3"/><text class="rd" x="2265" y="468">Unconventional stimulus in</text><text class="rd" x="2265" y="486">PUS from 2022 (share of</text><text class="rd" x="2265" y="502">GDP)</text>
<g class="sl"><line x1="2179" y1="572" x2="2350" y2="572"/><circle cx="2179" cy="572" r="8"/></g>
<text class="n" x="2179" y="596">0</text><text class="n" x="2265" y="596">0</text><text class="n" x="2350" y="596">0.05</text><text class="n" x="2265" y="609">1</text></g>
<g id="off_balance_pus"><text class="mg" x="2242" y="613">Off-balance-sheet govmnt inv in</text><text class="mg" x="2242" y="630">PUS (share of GDP)</text><path class="sp" d="M2138,616 L2344,616"/></g>
<g id="time_pus"><text class="gy" x="2248" y="687">&lt;Time&gt;</text></g>

<g id="chart" class="ch">
<rect x="1237" y="761" width="783" height="704" fill="#fff" stroke="#999" stroke-width="2.5"/>
<text x="1628" y="792" style="font-size:17px">Output: Long term growth</text>
<g class="grid">
<line x1="1317" y1="937" x2="1940" y2="937"/><line x1="1317" y1="1060" x2="1940" y2="1060"/><line x1="1317" y1="1184" x2="1940" y2="1184"/>
<line x1="1369" y1="813" x2="1369" y2="1308"/><line x1="1421" y1="813" x2="1421" y2="1308"/><line x1="1473" y1="813" x2="1473" y2="1308"/><line x1="1525" y1="813" x2="1525" y2="1308"/><line x1="1577" y1="813" x2="1577" y2="1308"/><line x1="1629" y1="813" x2="1629" y2="1308"/><line x1="1680" y1="813" x2="1680" y2="1308"/><line x1="1732" y1="813" x2="1732" y2="1308"/><line x1="1784" y1="813" x2="1784" y2="1308"/><line x1="1836" y1="813" x2="1836" y2="1308"/><line x1="1888" y1="813" x2="1888" y2="1308"/>
<line x1="1940" y1="912" x2="1948" y2="912"/><line x1="1940" y1="1011" x2="1948" y2="1011"/><line x1="1940" y1="1110" x2="1948" y2="1110"/><line x1="1940" y1="1209" x2="1948" y2="1209"/><line x1="1940" y1="813" x2="1948" y2="813"/>
</g>
<g clip-path="url(#pc)" fill="none" stroke-linejoin="round">
<path stroke="#909090" stroke-width="1.4" d="M1317,1030 C1318,1012 1320,1005 1324,1005 S1340,1070 1356,1070 S1368.5,1029 1381,1029 S1393.5,1075 1406,1075 S1418.5,1037 1431,1037 S1445,1085 1459,1085 S1472.5,1043 1486,1043 S1500.5,1095 1515,1095 S1528.5,1059 1542,1059 S1557,1108 1572,1108 S1585.5,1076 1599,1076 S1614.5,1107 1630,1107 S1642.5,1078 1655,1078 S1670,1107 1685,1107 S1698.5,1085 1712,1085 S1726.5,1108 1741,1108 S1749.5,1092 1758,1092 S1771.5,1112 1785,1112 S1797.5,1097 1810,1097 S1823.5,1118 1837,1118 S1844.5,1106 1852,1106 S1866.5,1126 1881,1126 S1893.5,1113 1906,1113 S1920.5,1135 1935,1135 L1940,1132"/>
<path stroke="#8b1c1c" stroke-width="1.5" d="M1317,908 C1324,920 1328,926 1336,922 S1348,983 1357,983 S1372,937 1387,937 S1398.5,1003 1410,1003 S1425,950 1440,950 S1451.5,1016 1463,1016 S1479.5,958 1496,958 S1507.5,1027 1519,1027 S1535,972 1551,972 S1563.5,1038 1576,1038 S1592.5,987 1609,987 S1620.5,1038 1632,1038 S1648,997 1664,997 S1675.5,1040 1687,1040 S1701.5,1007 1716,1007 S1728,1045 1740,1045 S1752.5,1013 1765,1013 S1776,1050 1787,1050 S1801,1019 1815,1019 S1826,1055 1837,1055 S1849.5,1023 1862,1023 S1873.5,1061 1885,1061 S1898.5,1028 1912,1028 S1922.5,1064 1933,1064 L1940,1057"/>
<polyline stroke="#000" stroke-width="1.3" points="1317,1077 1325,1055 1340,1063 1356,1070 1370,1062 1383,1058 1397,1066 1410,1068 1425,1060 1440,1053 1456,1061 1471,1060 1485,1052 1498,1043 1513,1052 1524,1050 1540,1038 1553,1037 1567,1045 1582,1043 1597,1035 1612,1033 1624,1040 1640,1036 1655,1033 1668,1040 1681,1043 1695,1036 1710,1037 1720,1042 1731,1045 1745,1042 1758,1046 1770,1048 1785,1053 1796,1050 1808,1053 1820,1062 1835,1068 1850,1064 1866,1068 1877,1077 1890,1073 1904,1077 1915,1085 1926,1084 1938,1093"/>
<path stroke="#ff2a1a" stroke-width="3" d="M1317,1088 C1400,1030 1530,875 1697,873 C1800,868 1880,915 1940,947"/>
<path stroke="#2e7d1e" stroke-width="2.6" d="M1317,1228 q5.2,-4.4 10.4,-4.8 t10.4,-4.8 t10.4,-4.8 t10.4,-4.8 t10.4,-4.8 t10.4,-4.8 t10.4,-4.8 t10.4,-4.8 t10.4,-4.8 t10.4,-4.8 q5.2,-5.35 10.4,-4.7 t10.4,-4.7 t10.4,-4.7 t10.4,-4.7 t10.4,-4.7 t10.4,-4.7 t10.4,-4.7 t10.4,-4.7 t10.4,-4.7 t10.4,-4.7 q5.2,-7.65 10.4,-7.3 t10.4,-7.3 t10.4,-7.3 t10.4,-7.3 t10.4,-7.3 t10.4,-7.3 t10.4,-7.3 t10.4,-7.3 t10.4,-7.3 t10.4,-7.3 q5.2,-9.5 10.4,-9 t10.4,-9 t10.4,-9 t10.4,-9 t10.4,-9 t10.4,-9 t10.4,-9 t10.4,-9 t10.4,-9 t10.4,-9 q5.2,-12 10.4,-10 t10.4,-10 t10.4,-10 t10.4,-10 t10.4,-10 t10.4,-10 t10.4,-10 t10.4,-10 t10.4,-10 t10.4,-10 q5.2,-13.5 10.4,-11 t10.4,-11 t10.4,-11 t10.4,-11 t10.4,-11 t10.4,-11"/>
<path stroke="#0000ff" stroke-width="3" d="M1317,1273 q5.2,-3.55 10.4,-4.1 t10.4,-4.1 t10.4,-4.1 t10.4,-4.1 t10.4,-4.1 t10.4,-4.1 t10.4,-4.1 t10.4,-4.1 t10.4,-4.1 t10.4,-4.1 q5.2,-4.85 10.4,-5.7 t10.4,-5.7 t10.4,-5.7 t10.4,-5.7 t10.4,-5.7 t10.4,-5.7 t10.4,-5.7 t10.4,-5.7 t10.4,-5.7 t10.4,-5.7 q5.2,-7.1 10.4,-8.2 t10.4,-8.2 t10.4,-8.2 t10.4,-8.2 t10.4,-8.2 t10.4,-8.2 t10.4,-8.2 t10.4,-8.2 t10.4,-8.2 t10.4,-8.2 q5.2,-7.8 10.4,-7.6 t10.4,-7.6 t10.4,-7.6 t10.4,-7.6 t10.4,-7.6 t10.4,-7.6 t10.4,-7.6 t10.4,-7.6 t10.4,-7.6 t10.4,-7.6 q5.2,-10 10.4,-8 t10.4,-8 t10.4,-8 t10.4,-8 t10.4,-8 t10.4,-8 t10.4,-8 t10.4,-8 t10.4,-8 t10.4,-8 q5.2,-11 10.4,-4 t10.4,-4 t10.4,-4 t10.4,-4 t10.4,-4 t10.4,-4 t10.4,-4 t10.4,-4 t10.4,-4 t10.4,-4"/>
</g>
<rect x="1317" y="813" width="623" height="495" fill="none" stroke="#000" stroke-width="2.6"/>
<g style="text-anchor:end">
<text x="1311" y="821" style="text-anchor:end">400000</text><text x="1311" y="943" style="text-anchor:end">300000</text><text x="1311" y="1067" style="text-anchor:end">200000</text><text x="1311" y="1190" style="text-anchor:end">100000</text><text x="1311" y="1315" style="text-anchor:end">0</text>
</g>
<text x="1951" y="821" style="text-anchor:start">10000</text><text x="1951" y="918" style="text-anchor:start">8000</text><text x="1951" y="1017" style="text-anchor:start">6000</text><text x="1951" y="1116" style="text-anchor:start">4000</text><text x="1951" y="1215" style="text-anchor:start">2000</text><text x="1953" y="1315" style="text-anchor:start">0</text>
<text x="1317" y="1327">1980</text><text x="1369" y="1327">1990</text><text x="1421" y="1327">2000</text><text x="1473" y="1327">2010</text><text x="1525" y="1327">2020</text><text x="1577" y="1327">2030</text><text x="1629" y="1327">2040</text><text x="1680" y="1327">2050</text><text x="1732" y="1327">2060</text><text x="1784" y="1327">2070</text><text x="1836" y="1327">2080</text><text x="1888" y="1327">2090</text><text x="1940" y="1327">2100</text>
<text x="1628" y="1354">Time (Year)</text>
<text x="0" y="0" transform="translate(1261,1060) rotate(-90)">G$/y</text>
<text x="0" y="0" transform="translate(1994,1060) rotate(90)">Mp</text>
<line x1="1243" y1="1379" x2="1295" y2="1379" stroke="#0000ff" stroke-width="4"/>
<rect x="1310" y="1367" width="27" height="25" rx="4" fill="#3d86f0"/><path d="M1316,1380 L1321,1387 L1331,1372" stroke="#fff" stroke-width="3.5" fill="none"/>
<text x="1348" y="1383" style="text-anchor:start;font-size:11px">"GDP G$/y" : E4A-220501 TLTL(G$/y)</text>
<line x1="1243" y1="1415" x2="1295" y2="1415" stroke="#ff2a1a" stroke-width="4"/>
<rect x="1310" y="1403" width="27" height="25" rx="4" fill="#3d86f0"/><path d="M1316,1416 L1321,1423 L1331,1408" stroke="#fff" stroke-width="3.5" fill="none"/>
<text x="1348" y="1419" style="text-anchor:start;font-size:11px">Population Mp : E4A-220501 TLTL(Mp)</text>
<line x1="1243" y1="1451" x2="1295" y2="1451" stroke="#2e7d1e" stroke-width="4"/>
<rect x="1310" y="1438" width="27" height="22" rx="4" fill="#3d86f0"/><path d="M1316,1451 L1321,1458 L1331,1443" stroke="#fff" stroke-width="3.5" fill="none"/>
<text x="1348" y="1455" style="text-anchor:start;font-size:11px">"GDP per person k$/p/y" : E4A-220501 TLTL(k$/(y*p))</text>
<text x="1648" y="1455" style="font-size:11px">*</text>
</g>
</svg>
